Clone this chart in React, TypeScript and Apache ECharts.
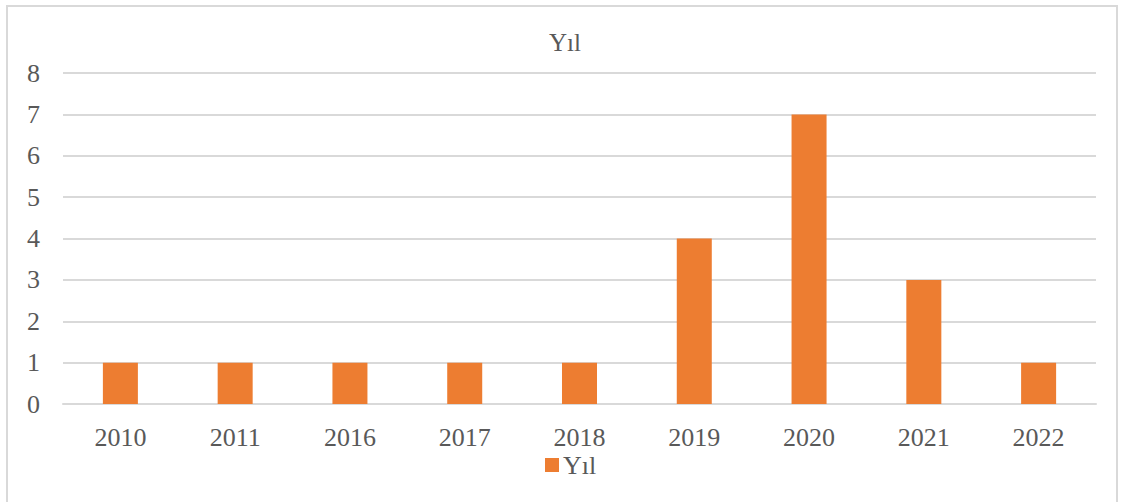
import React, { useEffect, useRef } from "react";
import * as echarts from "echarts";

const categories = ["2010", "2011", "2016", "2017", "2018", "2019", "2020", "2021", "2022"];
const values = [1, 1, 1, 1, 1, 4, 7, 3, 1];
const seriesName = "Yıl";
const titleText = "Yıl";

export default function App() {
  const ref = useRef<HTMLDivElement>(null);
  useEffect(() => {
    if (!ref.current) return;
    const chart = echarts.init(ref.current, null, { renderer: "svg" });
    const font = "Liberation Serif";
    chart.setOption({
      animation: false,
      backgroundColor: "#ffffff",
      textStyle: { fontFamily: font },
      title: {
        text: titleText,
        left: 549,
        top: 28,
        padding: 0,
        textStyle: { fontFamily: font, fontSize: 25, fontWeight: "normal", color: "#595959", lineHeight: 28 },
      },
      legend: {
        data: [seriesName],
        top: 451,
        left: 545,
        padding: 0,
        icon: "rect",
        itemWidth: 14,
        itemHeight: 14,
        itemGap: 5,
        textStyle: { fontFamily: font, fontSize: 26, color: "#595959", lineHeight: 28, padding: [0, 0, 0, -1] },
      },
      graphic: [
        {
          type: "rect",
          shape: { x: 7, y: 6, width: 1110, height: 510 },
          style: { fill: "none", stroke: "#d9d9d9", lineWidth: 2 },
          silent: true,
        },
      ],
      grid: { left: 63, right: 26, top: 73, bottom: 98, containLabel: false },
      xAxis: {
        type: "category",
        data: categories,
        axisLine: { show: true, lineStyle: { color: "#d9d9d9", width: 2 } },
        axisTick: { show: false },
        axisLabel: { fontFamily: font, fontSize: 26, color: "#595959", margin: 21, lineHeight: 24 },
      },
      yAxis: {
        type: "value",
        min: 0,
        max: 8,
        interval: 1,
        axisLine: { show: false },
        axisTick: { show: false },
        splitLine: { lineStyle: { color: "#d9d9d9", width: 2 } },
        axisLabel: { fontFamily: font, fontSize: 26, color: "#595959", margin: 23 },
      },
      series: [
        {
          name: seriesName,
          type: "bar",
          data: values,
          barWidth: "30.5%",
          itemStyle: { color: "#ED7D31" },
        },
      ],
    });
    return () => chart.dispose();
  }, []);
  return (
    <div
      ref={ref}
      style={{ position: "fixed", left: 0, top: 0, width: 1122, height: 502 }}
    />
  );
}
